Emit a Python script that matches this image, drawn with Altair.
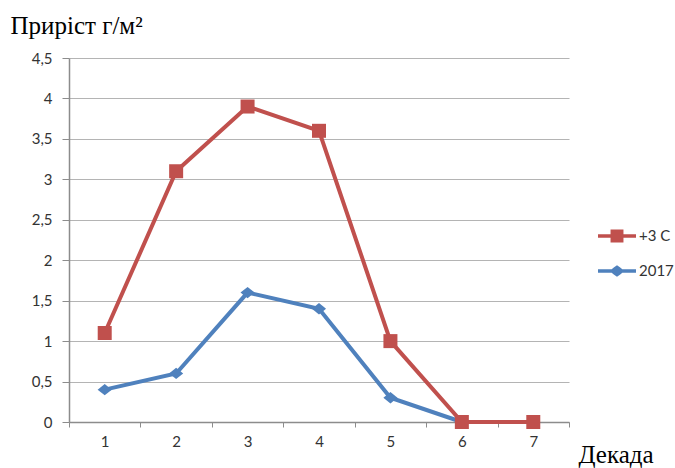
import altair as alt
import pandas as pd

# Growth per decade (г/м²) for two series
decades = [1, 2, 3, 4, 5, 6, 7]
plus3 = [1.1, 3.1, 3.9, 3.6, 1.0, 0.0, 0.0]
y2017 = [0.4, 0.6, 1.6, 1.4, 0.3, 0.0]

series_names = ["+3 C", "2017"]
series_colors = ["#C0504D", "#4F81BD"]

rows = [{"decade": d, "value": v, "series": "+3 C"} for d, v in zip(decades, plus3)]
rows += [{"decade": d, "value": v, "series": "2017"} for d, v in zip(decades, y2017)]
df = pd.DataFrame(rows)

legend_df = pd.DataFrame({"series": series_names, "decade": [1, 1], "value": [0.0, 0.0]})

# marker shapes
diamond_wide = "M-1,0 L0,-0.8 L1,0 L0,0.8 Z"
# legend symbols: a short line segment with the series marker in the middle
sym_square = ("M-1,-0.09 L-0.34,-0.09 L-0.34,-0.34 L0.34,-0.34 L0.34,-0.09 L1,-0.09 "
              "L1,0.09 L0.34,0.09 L0.34,0.34 L-0.34,0.34 L-0.34,0.09 L-1,0.09 Z")
sym_diamond = ("M-1,-0.09 L-0.28,-0.09 L-0.17,-0.19 L0,-0.3 L0.17,-0.19 L0.28,-0.09 L1,-0.09 "
               "L1,0.09 L0.28,0.09 L0.17,0.19 L0,0.3 L-0.17,0.19 L-0.28,0.09 L-1,0.09 Z")

LABEL_FONT = "Lato"
GRID = "#b4b4b4"
AXIS = "#8c8c8c"

x_enc = alt.X(
    "decade:O",
    scale=alt.Scale(domain=decades, paddingInner=0, paddingOuter=0),
    axis=alt.Axis(
        title="Декада", titleFont="Liberation Serif", titleFontSize=25,
        titleFontWeight="normal", titleColor="#000000",
        titleAngle=0, titleAlign="left", titleBaseline="alphabetic",
        titleX=509, titleY=40,
        labelAngle=0, labelFont=LABEL_FONT, labelFontSize=15, labelColor="#333333",
        labelPadding=7, tickBand="extent", tickSize=5, tickColor=AXIS,
        domainColor=AXIS, domainWidth=1.5, grid=False,
    ),
)
y_enc = alt.Y(
    "value:Q",
    scale=alt.Scale(domain=[0, 4.5], nice=False),
    axis=alt.Axis(
        title="Приріст г/м²", titleFont="Liberation Serif", titleFontSize=25,
        titleFontWeight="normal", titleColor="#000000",
        titleAngle=0, titleAlign="left", titleBaseline="alphabetic",
        titleX=-59, titleY=-25,
        values=[0, 0.5, 1, 1.5, 2, 2.5, 3, 3.5, 4, 4.5],
        labelExpr="replace(toString(datum.value), '.', ',')",
        labelFont=LABEL_FONT, labelFontSize=15, labelColor="#333333",
        labelPadding=10, tickSize=7, tickColor=AXIS,
        domainColor=AXIS, domainWidth=1.5,
        grid=True, gridColor=GRID, gridWidth=1.2,
    ),
)

color_scale = alt.Scale(domain=series_names, range=series_colors)
color_legend = alt.Legend(
    title=None, orient="none", legendX=529, legendY=159,
    symbolSize=1444, symbolOpacity=1, symbolStrokeWidth=0,
    labelFont=LABEL_FONT, labelFontSize=15, labelColor="#333333",
    labelOffset=3, rowPadding=8, padding=0,
)
color_enc = alt.Color("series:N", scale=color_scale, legend=color_legend)


def series_layers(name, shape, size):
    sub = df[df["series"] == name]
    base = alt.Chart(sub).encode(x=x_enc, y=y_enc, color=color_enc)
    line = base.mark_line(strokeWidth=4)
    pts = base.mark_point(shape=shape, filled=True, opacity=1, size=size)
    return line + pts


blue = series_layers("2017", diamond_wide, 200)
red = series_layers("+3 C", "square", 196)

legend_layer = alt.Chart(legend_df).mark_point(opacity=0, filled=True).encode(
    x=x_enc, y=y_enc,
    color=color_enc,
    shape=alt.Shape("series:N",
                    scale=alt.Scale(domain=series_names, range=[sym_square, sym_diamond]),
                    legend=color_legend),
)

chart = alt.layer(blue, red, legend_layer).properties(
    width=500, height=364,
    autosize=alt.AutoSizeParams(type="none"),
    padding={"left": 69, "top": 58, "right": 106, "bottom": 46},
    background="#ffffff",
).configure_view(stroke=None)

chart.save("out.html", embed_options={"renderer": "svg", "actions": False})
